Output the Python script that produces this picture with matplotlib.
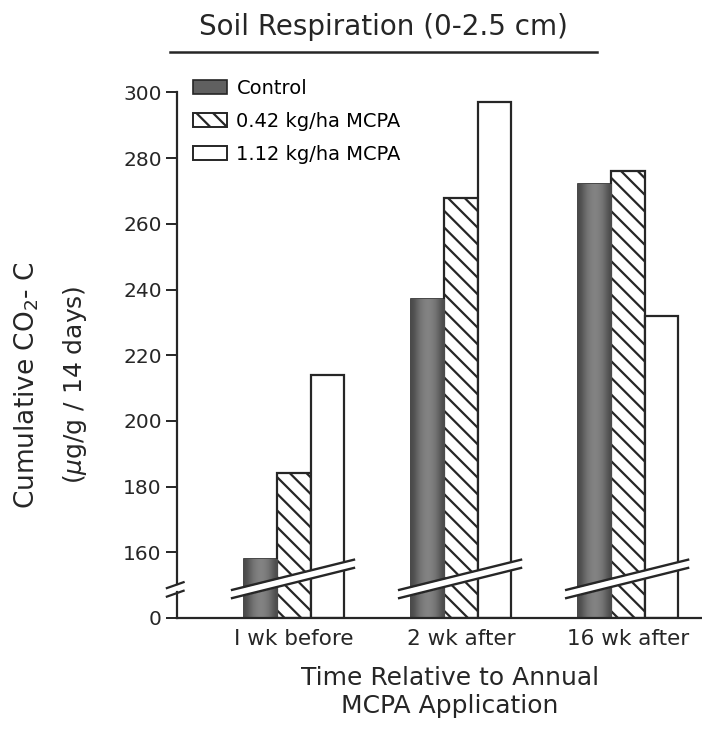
import numpy as np
import matplotlib.pyplot as plt
from matplotlib.patches import Patch

# Data
groups = ["I wk before", "2 wk after", "16 wk after"]
series_names = ["Control", "0.42 kg/ha MCPA", "1.12 kg/ha MCPA"]
control = [158, 237, 272]
mcpa_042 = [184, 268, 276]
mcpa_112 = [214, 297, 232]
y_ticks = [0, 160, 180, 200, 220, 240, 260, 280, 300]

# Broken axis: 0 sits one tick step below 160
break_low = 160
step = 20
def to_axis(v):
    v = np.asarray(v, dtype=float)
    return np.where(v > 0, v - (break_low - step), 0.0)

ink = "#262626"
gray = "#606060"
plt.rcParams["hatch.linewidth"] = 1.6
plt.rcParams["font.family"] = "DejaVu Sans"

fig = plt.figure(figsize=(7.02, 7.41), dpi=100)
ax = fig.add_axes([0.252, 0.166, 0.748, 0.7536])

x = np.arange(len(groups))
w = 0.2
bars_c = ax.bar(x - w, to_axis(control), w, color=gray, edgecolor=ink, linewidth=1.2, zorder=2)
ax.bar(x, to_axis(mcpa_042), w, color="white", edgecolor=ink, hatch="\\\\", linewidth=1.6, zorder=2)
ax.bar(x + w, to_axis(mcpa_112), w, color="white", edgecolor=ink, linewidth=1.6, zorder=2)

# shaded look of the control bars (darker at the sides)
shade = np.array([[0.29, 0.42, 0.49, 0.52, 0.49, 0.42, 0.29]])
for b in bars_c:
    x0, y0, bw, bh = b.get_x(), b.get_y(), b.get_width(), b.get_height()
    im = ax.imshow(shade, cmap="gray", vmin=0, vmax=1, aspect="auto",
                   interpolation="bicubic",
                   extent=[x0, x0 + bw, y0, y0 + bh], zorder=2.1)
    im.set_clip_path(b)

# break band across each group
for c in x:
    bx = np.array([c - 0.37, c + 0.36])
    by = np.array([7.3, 16.5])
    ax.fill_between(bx, by - 1.25, by + 1.25, color="white", zorder=3, linewidth=0)
    ax.plot(bx, by - 1.25, color=ink, lw=1.7, zorder=4)
    ax.plot(bx, by + 1.25, color=ink, lw=1.7, zorder=4)

ax.set_xlim(-0.70, 2.443)
ax.set_ylim(0, 170)

# left axis drawn by hand with a break
ax.spines["left"].set_visible(False)
ax.spines["top"].set_visible(False)
ax.spines["right"].set_visible(False)
ax.spines["bottom"].set_linewidth(1.6)
ax.spines["bottom"].set_color(ink)
ax.plot([-0.70, -0.70], [0, 8.0], color=ink, lw=1.6, clip_on=False, zorder=5)
ax.plot([-0.70, -0.70], [10.5, 160], color=ink, lw=1.6, clip_on=False, zorder=5)
for yb in [7.4, 10.0]:
    ax.plot([-0.76, -0.66], [yb - 0.9, yb + 0.9], color=ink, lw=1.6, clip_on=False, zorder=5)

ax.set_yticks(to_axis(y_ticks))
ax.set_yticklabels([str(t) for t in y_ticks], fontsize=14.5, color=ink)
ax.tick_params(axis="y", direction="out", length=8, width=1.4, color=ink, pad=3)
ax.set_xticks(x)
ax.set_xticklabels(groups, fontsize=15.5, color=ink)
ax.tick_params(axis="x", length=0, pad=8)

handles = [Patch(facecolor=gray, edgecolor=ink, linewidth=1.2),
           Patch(facecolor="white", edgecolor=ink, hatch="\\\\", linewidth=1.4),
           Patch(facecolor="white", edgecolor=ink, linewidth=1.4)]
ax.legend(handles, series_names, loc="upper left", bbox_to_anchor=(0.03, 0.966),
          frameon=False, fontsize=14, handlelength=1.75, handleheight=0.75,
          labelspacing=0.72, borderpad=0, borderaxespad=0, handletextpad=0.5)

fig.text(0.546, 1 - 27 / 741, "Soil Respiration (0-2.5 cm)", ha="center", va="center",
         fontsize=20, color=ink)
fig.add_artist(plt.Line2D([170 / 702, 597 / 702], [1 - 52 / 741, 1 - 52 / 741],
                          color=ink, lw=1.8))

fig.text(27 / 702, 1 - 385 / 741, "Cumulative CO$_2$- C", rotation=90,
         ha="center", va="center", fontsize=19, color=ink)
fig.text(75 / 702, 1 - 385 / 741, "($\\mu$g/g / 14 days)", rotation=90,
         ha="center", va="center", fontsize=18, color=ink)
fig.text(450 / 702, 1 - 692 / 741, "Time Relative to Annual\nMCPA Application",
         ha="center", va="center", fontsize=18, color=ink, linespacing=1.2)

fig.savefig("out.png", dpi=100)
